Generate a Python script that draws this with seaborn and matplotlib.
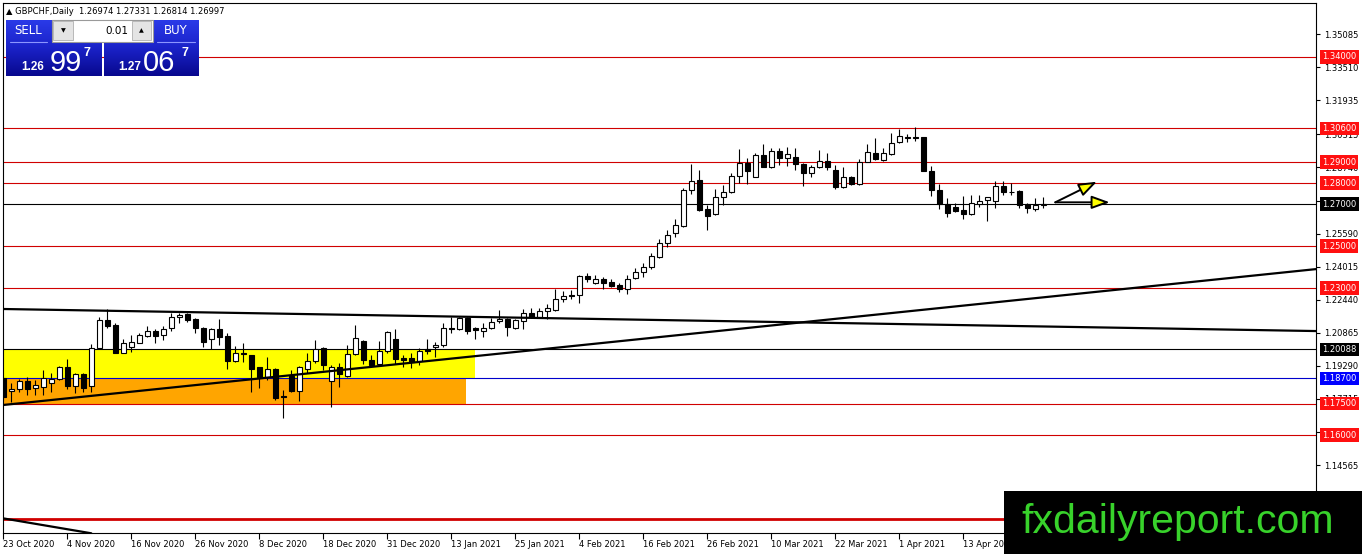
import numpy as np
import matplotlib
matplotlib.use('Agg')
import matplotlib.pyplot as plt
import seaborn as sns
from matplotlib.patches import Rectangle
from matplotlib.colors import LinearSegmentedColormap

# GBPCHF daily candles, 23 Oct 2020 onwards
opens = [1.1870, 1.1810, 1.1819, 1.1857, 1.1822, 1.1830, 1.1846, 1.1865, 1.1922, 1.1835,
         1.1890, 1.1835, 1.2013, 1.2148, 1.2125, 1.1992, 1.2021, 1.2040, 1.2073, 1.2095,
         1.2078, 1.2108, 1.2160, 1.2175, 1.2152, 1.2111, 1.2056, 1.2105, 1.2071, 1.1954,
         1.1992, 1.1981, 1.1922, 1.1875, 1.1914, 1.1786, 1.1881, 1.1811, 1.1914, 1.1954,
         1.2013, 1.1857, 1.1922, 1.1883, 1.1984, 1.2048, 1.1957, 1.1938, 1.2002, 1.2056,
         1.1965, 1.1965, 1.1952, 1.2011, 1.2018, 1.2029, 1.2108, 1.2103, 1.2156, 1.2111,
         1.2097, 1.2108, 1.2143, 1.2151, 1.2111, 1.2143, 1.2183, 1.2164, 1.2191, 1.2195,
         1.2246, 1.2267, 1.2267, 1.2357, 1.2325, 1.2341, 1.2330, 1.2314, 1.2294, 1.2346,
         1.2375, 1.2398, 1.2449, 1.2513, 1.2560, 1.2597, 1.2767, 1.2814, 1.2676, 1.2652,
         1.2735, 1.2759, 1.2833, 1.2894, 1.2830, 1.2933, 1.2878, 1.2952, 1.2921, 1.2925,
         1.2889, 1.2846, 1.2875, 1.2906, 1.2862, 1.2783, 1.2830, 1.2795, 1.2902, 1.2941,
         1.2910, 1.2938, 1.2994, 1.3014, 1.3021, 1.3017, 1.2859, 1.2767, 1.2698, 1.2684,
         1.2671, 1.2652, 1.2700, 1.2719, 1.2714, 1.2786, 1.2759, 1.2762, 1.2698, 1.2675,
         1.26974]
highs = [1.1875, 1.1846, 1.1865, 1.1875, 1.1862, 1.1910, 1.1894, 1.1929, 1.1962, 1.1894,
         1.1897, 1.2033, 1.2164, 1.2200, 1.2132, 1.2056, 1.2076, 1.2084, 1.2119, 1.2103,
         1.2119, 1.2183, 1.2183, 1.2179, 1.2156, 1.2116, 1.2111, 1.2151, 1.2084, 1.2024,
         1.2037, 1.1981, 1.1922, 1.1973, 1.1917, 1.1814, 1.1910, 1.1929, 1.1989, 1.2052,
         1.2018, 1.1933, 1.1941, 1.2029, 1.2124, 1.2052, 1.1981, 1.2048, 1.2095, 1.2105,
         1.1981, 1.1989, 1.2016, 1.2056, 1.2044, 1.2135, 1.2164, 1.2164, 1.2164, 1.2116,
         1.2132, 1.2156, 1.2195, 1.2156, 1.2151, 1.2198, 1.2203, 1.2203, 1.2224, 1.2294,
         1.2286, 1.2291, 1.2362, 1.2373, 1.2362, 1.2354, 1.2341, 1.2322, 1.2362, 1.2394,
         1.2421, 1.2465, 1.2532, 1.2576, 1.2627, 1.2775, 1.2891, 1.2862, 1.2695, 1.2770,
         1.2790, 1.2846, 1.2960, 1.2918, 1.2944, 1.2986, 1.2965, 1.2965, 1.2973, 1.2965,
         1.2894, 1.2886, 1.2957, 1.2944, 1.2886, 1.2875, 1.2835, 1.2913, 1.2984, 1.3013,
         1.2965, 1.3036, 1.3056, 1.3032, 1.3068, 1.3021, 1.2881, 1.2794, 1.2727, 1.2703,
         1.2738, 1.2743, 1.2743, 1.2735, 1.2811, 1.2810, 1.2798, 1.2767, 1.2703, 1.2727,
         1.27331]
lows = [1.1767, 1.1759, 1.1806, 1.1791, 1.1791, 1.1791, 1.1806, 1.1862, 1.1817, 1.1798,
        1.1806, 1.1806, 1.2008, 1.2108, 1.1989, 1.1989, 1.1997, 1.2037, 1.2065, 1.2037,
        1.2052, 1.2097, 1.2135, 1.2140, 1.2084, 1.2021, 1.2008, 1.2029, 1.1913, 1.1949,
        1.1949, 1.1806, 1.1822, 1.1862, 1.1767, 1.1679, 1.1806, 1.1762, 1.1897, 1.1944,
        1.1910, 1.1735, 1.1830, 1.1878, 1.1981, 1.1938, 1.1925, 1.1929, 1.1989, 1.1938,
        1.1922, 1.1917, 1.1933, 1.1986, 1.1973, 1.2021, 1.2087, 1.2100, 1.2079, 1.2056,
        1.2068, 1.2103, 1.2135, 1.2073, 1.2103, 1.2103, 1.2156, 1.2156, 1.2151, 1.2192,
        1.2235, 1.2246, 1.2230, 1.2330, 1.2319, 1.2294, 1.2306, 1.2283, 1.2272, 1.2341,
        1.2354, 1.2389, 1.2441, 1.2494, 1.2544, 1.2592, 1.2748, 1.2668, 1.2576, 1.2648,
        1.2695, 1.2751, 1.2798, 1.2794, 1.2827, 1.2875, 1.2873, 1.2886, 1.2883, 1.2862,
        1.2786, 1.2830, 1.2870, 1.2862, 1.2771, 1.2778, 1.2790, 1.2790, 1.2898, 1.2910,
        1.2905, 1.2933, 1.2989, 1.2997, 1.3000, 1.2857, 1.2740, 1.2676, 1.2640, 1.2664,
        1.2627, 1.2648, 1.2687, 1.2619, 1.2679, 1.2743, 1.2743, 1.2683, 1.2659, 1.2668,
        1.26814]
closes = [1.1783, 1.1819, 1.1859, 1.1819, 1.1837, 1.1873, 1.1867, 1.1922, 1.1835, 1.1890,
          1.1825, 1.2013, 1.2148, 1.2119, 1.1992, 1.2037, 1.2041, 1.2076, 1.2094, 1.2073,
          1.2103, 1.2164, 1.2171, 1.2148, 1.2108, 1.2041, 1.2105, 1.2068, 1.1954, 1.1992,
          1.1984, 1.1914, 1.1875, 1.1914, 1.1775, 1.1779, 1.1811, 1.1922, 1.1954, 1.2010,
          1.1933, 1.1922, 1.1890, 1.1984, 1.2064, 1.1957, 1.1933, 1.2002, 1.2092, 1.1962,
          1.1957, 1.1949, 1.2002, 1.2002, 1.2029, 1.2108, 1.2103, 1.2156, 1.2097, 1.2100,
          1.2108, 1.2140, 1.2152, 1.2116, 1.2148, 1.2179, 1.2164, 1.2191, 1.2203, 1.2246,
          1.2262, 1.2262, 1.2357, 1.2341, 1.2343, 1.2325, 1.2311, 1.2294, 1.2341, 1.2375,
          1.2398, 1.2452, 1.2513, 1.2552, 1.2600, 1.2767, 1.2811, 1.2671, 1.2644, 1.2735,
          1.2759, 1.2833, 1.2897, 1.2859, 1.2933, 1.2878, 1.2952, 1.2921, 1.2937, 1.2889,
          1.2846, 1.2875, 1.2906, 1.2878, 1.2783, 1.2830, 1.2795, 1.2902, 1.2946, 1.2914,
          1.2941, 1.2992, 1.3024, 1.3017, 1.3013, 1.2859, 1.2767, 1.2698, 1.2659, 1.2668,
          1.2652, 1.2703, 1.2716, 1.2732, 1.2787, 1.2759, 1.2756, 1.2695, 1.2679, 1.2695,
          1.26997]

date_labels = ['23 Oct 2020', '4 Nov 2020', '16 Nov 2020', '26 Nov 2020', '8 Dec 2020',
               '18 Dec 2020', '31 Dec 2020', '13 Jan 2021', '25 Jan 2021', '4 Feb 2021',
               '16 Feb 2021', '26 Feb 2021', '10 Mar 2021', '22 Mar 2021', '1 Apr 2021',
               '13 Apr 2021']
date_bars = [0, 8, 16, 24, 32, 40, 48, 56, 64, 72, 80, 88, 96, 104, 112, 120]

price_ticks = [1.35085, 1.33510, 1.31935, 1.30315, 1.28740, 1.27165, 1.25590, 1.24015,
               1.22440, 1.20865, 1.19290, 1.17715, 1.16140, 1.14565]

# horizontal levels, their colours, and whether a price label shows on the axis
levels = [1.34, 1.306, 1.29, 1.28, 1.27, 1.25, 1.23, 1.20088, 1.187, 1.175, 1.16, 1.12]
level_kind = ['red', 'red', 'red', 'red', 'black', 'red', 'red', 'black', 'blue', 'red',
              'red', 'red']
level_tagged = [True] * 11 + [False]

# zones (bar from, bar to, price low, price high)
yellow_zone = (-5, 59.0, 1.18700, 1.20088)
orange_zone = (-5, 57.9, 1.17500, 1.18700)

# trendlines (bar, price)
trend_bars = [(0, 164.1), (0, 164.1), (0, 11)]
trend_prices = [(1.2200, 1.2095), (1.1743, 1.2390), (1.1203, 1.1132)]

# drawn arrows (start, tip)
arrow_start = [(131.5, 1.2708), (131.5, 1.2708)]
arrow_tip = [(136.7, 1.2806), (138.3, 1.2708)]

sns.set_style('white')
plt.rcParams['font.family'] = ['DejaVu Sans']

W, H = 1362, 554
fig = plt.figure(figsize=(W / 100, H / 100), dpi=100)
left, right, top, bottom = 2.7, 1316, 3.3, 532.7
ax = fig.add_axes([left / W, (H - bottom) / H, (right - left) / W, (bottom - top) / H])

line_col = {'red': '#d00000', 'black': 'black', 'blue': '#0000cc'}
box_col = {'red': '#ff1010', 'black': 'black', 'blue': '#0000ff'}

# zones
for x0, x1, p0, p1, col in [(*yellow_zone, '#ffff00'), (*orange_zone, '#ffa500')]:
    ax.add_patch(Rectangle((x0, p0), x1 - x0, p1 - p0, facecolor=col, lw=0, zorder=1))

# levels
for p, k in zip(levels, level_kind):
    lw = 2.0 if p == 1.12 else 0.8
    ax.axhline(p, color=line_col[k], lw=lw, zorder=2)

# candles
o, hi, lo, c = map(np.array, (opens, highs, lows, closes))
idx = np.arange(len(o))
up = c >= o
ax.vlines(idx, lo, hi, color='black', lw=0.8, zorder=3)
ax.bar(idx[up], (c - o)[up], bottom=o[up], width=0.62, color='white',
       edgecolor='black', lw=0.8, zorder=4)
ax.bar(idx[~up], (o - c)[~up], bottom=c[~up], width=0.62, color='black',
       edgecolor='black', lw=0.8, zorder=4)

# trendlines
for xs, ys in zip(trend_bars, trend_prices):
    sns.lineplot(x=list(xs), y=list(ys), ax=ax, color='black', lw=1.6, zorder=5)

# arrows
for s, t in zip(arrow_start, arrow_tip):
    ax.annotate('', xy=t, xytext=s,
                arrowprops=dict(arrowstyle='-|>,head_length=1.1,head_width=0.4',
                                mutation_scale=10, fc='#ffff00', ec='black', lw=1.4,
                                shrinkA=0, shrinkB=0), zorder=6)

ax.set_xlim(-0.075, 164.09)
ax.set_ylim(1.11348, 1.36557)
ax.set_xlabel('')
ax.set_ylabel('')

# axes styling
for sp in ax.spines.values():
    sp.set_color('black')
    sp.set_linewidth(0.8)
ax.yaxis.tick_right()
ax.set_yticks(price_ticks)
ax.set_yticklabels([f'{v:.5f}' for v in price_ticks])
ax.tick_params(axis='y', left=False, right=True, labelright=True, labelleft=False,
               length=3, width=0.8, pad=3, labelsize=6, colors='black')
ax.set_xticks(date_bars)
ax.set_xticklabels(date_labels)
ax.tick_params(axis='x', bottom=True, length=4, width=0.8, pad=1.5, labelsize=6,
               colors='black')
for lbl in ax.get_xticklabels():
    lbl.set_ha('left')

# level labels on price axis
tr = ax.get_yaxis_transform()
for p, k, tag in zip(levels, level_kind, level_tagged):
    if not tag:
        continue
    ax.text(1.0047, p, f'{p:.5f}', transform=tr, ha='left', va='center', fontsize=6,
            color='white', clip_on=False, zorder=8,
            bbox=dict(boxstyle='square,pad=0.25', fc=box_col[k], ec='none'))

# overlay: trade panel, header and watermark
ov = fig.add_axes([0, 0, 1, 1], zorder=10)
ov.patch.set_alpha(0)
ov.axis('off')

cmap = LinearSegmentedColormap.from_list('mtblue', ['#2a3ae8', '#1a22c8', '#08088e'])
grad = np.linspace(0, 1, 64).reshape(-1, 1)
ov.imshow(grad, extent=(6, 101.7, 76, 20), cmap=cmap, aspect='auto', origin='upper')
ov.imshow(grad, extent=(104.3, 199, 76, 20), cmap=cmap, aspect='auto', origin='upper')
ov.add_patch(Rectangle((51.7, 20), 101.6, 21.7, facecolor='white', edgecolor='#9a9a9a', lw=0.8))
ov.add_patch(Rectangle((53.3, 21.3), 19.4, 19, facecolor='#e4e4e4', edgecolor='#b0b0b0', lw=0.6))
ov.add_patch(Rectangle((131.7, 21.3), 19.6, 19, facecolor='#e4e4e4', edgecolor='#b0b0b0', lw=0.6))
ov.text(63, 31, '▼', ha='center', va='center', fontsize=4.5, color='black')
ov.text(141.5, 31, '▲', ha='center', va='center', fontsize=4.5, color='black')
ov.text(128, 31, '0.01', ha='right', va='center', fontsize=7.5, color='black')
ov.plot([10, 47], [42, 42], color='#8c96ff', lw=0.8)
ov.plot([157, 195], [42, 42], color='#8c96ff', lw=0.8)
ov.text(28.3, 31, 'SELL', ha='center', va='center', fontsize=8.5, color='white')
ov.text(176, 31, 'BUY', ha='center', va='center', fontsize=8.5, color='white')
small = ['Liberation Sans', 'DejaVu Sans']
big = ['Liberation Sans Narrow', 'Liberation Sans']
ov.text(21.5, 70.5, '1.26', ha='left', va='baseline', fontsize=8.5, weight='bold',
        color='white', family=small)
ov.text(49.5, 71, '99', ha='left', va='baseline', fontsize=21, color='white', family=big)
ov.text(84, 46.5, '7', ha='left', va='top', fontsize=9, weight='bold', color='white',
        family=small)
ov.text(118.5, 70.5, '1.27', ha='left', va='baseline', fontsize=8.5, weight='bold',
        color='white', family=small)
ov.text(143, 71, '06', ha='left', va='baseline', fontsize=21, color='white', family=big)
ov.text(182, 46.5, '7', ha='left', va='top', fontsize=9, weight='bold', color='white',
        family=small)

ov.text(6.5, 11, '▲ GBPCHF,Daily  1.26974 1.27331 1.26814 1.26997', ha='left',
        va='center', fontsize=6, color='black')

ov.add_patch(Rectangle((1004, 490.7), 358, 64, facecolor='black', lw=0))
ov.text(1021.5, 533.3, 'fxdailyreport.com', ha='left', va='baseline', fontsize=29.5,
        color='#38d22b', family=['Liberation Sans', 'DejaVu Sans'])

ov.set_xlim(0, W)
ov.set_ylim(H, 0)

fig.savefig('out.png', dpi=100)
